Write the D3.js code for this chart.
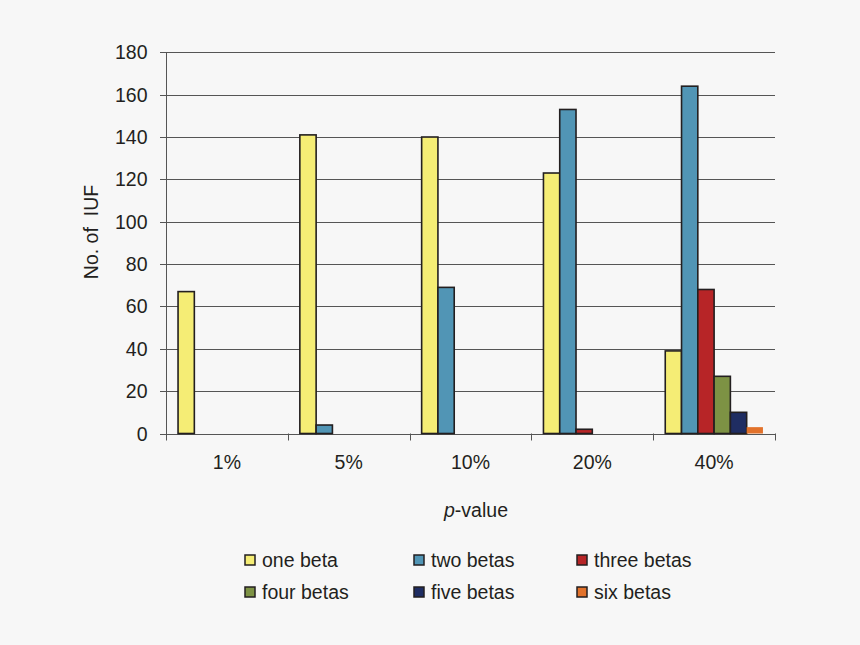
<!DOCTYPE html>
<html><head><meta charset="utf-8">
<script src="https://cdn.jsdelivr.net/npm/d3@7"></script>
<style>
html,body{margin:0;padding:0;background:#f7f7f7;}
svg{display:block;}
text{font-family:"Liberation Sans",Arial,Helvetica,sans-serif;fill:#231f20;}
</style></head>
<body>
<script>
const categories = ["1%","5%","10%","20%","40%"];
const seriesNames = ["one beta","two betas","three betas","four betas","five betas","six betas"];
const seriesColors = ["#f5ed75","#5195b5","#b72527","#7d9244","#1f2d62","#e2722b"];
const oneBeta   = [67,141,140,123,39];
const twoBetas  = [0,4,69,153,164];
const threeBetas= [0,0,0,2,68];
const fourBetas = [0,0,0,0,27];
const fiveBetas = [0,0,0,0,10];
const sixBetas  = [0,0,0,0,3];
const yTicks = [0,20,40,60,80,100,120,140,160,180];
const allSeries = [oneBeta,twoBetas,threeBetas,fourBetas,fiveBetas,sixBetas];

(function(){
const W=860,H=645, FS=19.5;
const svg=d3.select("body").append("svg").attr("width",W).attr("height",H);
svg.append("rect").attr("width",W).attr("height",H).attr("fill","#f7f7f7");
const mL=166, mR=775, mT=52.3, mB=433.5;
const x=d3.scaleBand().domain(categories).range([mL,mR]).paddingInner(0).paddingOuter(0);
const xs=d3.scaleBand().domain(seriesNames).range([0,x.bandwidth()]).paddingOuter(0.74).paddingInner(0);
const y=d3.scaleLinear().domain([0,180]).range([mB,mT]);

svg.append("g").selectAll("line").data(yTicks).join("line")
  .attr("x1",mL-6).attr("x2",mR).attr("y1",d=>Math.round(y(d))+0.5).attr("y2",d=>Math.round(y(d))+0.5)
  .attr("stroke","#555").attr("stroke-width",1);
svg.append("line").attr("x1",mL+0.5).attr("x2",mL+0.5).attr("y1",y(180)).attr("y2",mB+7).attr("stroke","#555");
svg.append("g").selectAll("text").data(yTicks).join("text")
  .attr("x",147.5).attr("y",d=>y(d)).attr("dy","0.36em").attr("text-anchor","end")
  .attr("font-size",FS).text(d=>d);
const bounds=categories.map(c=>x(c)).concat([mR]);
svg.append("g").selectAll("line").data(bounds.slice(1)).join("line")
  .attr("x1",d=>Math.round(d)+0.5).attr("x2",d=>Math.round(d)+0.5).attr("y1",mB).attr("y2",mB+7)
  .attr("stroke","#555");
const g=svg.append("g");
allSeries.forEach((vals,si)=>{
  g.selectAll(null).data(vals.map((v,i)=>({v,c:categories[i]})).filter(d=>d.v>0)).join("rect")
    .attr("x",d=>x(d.c)+xs(seriesNames[si]))
    .attr("width",xs.bandwidth())
    .attr("y",d=>y(d.v)).attr("height",d=>mB-y(d.v))
    .attr("fill",seriesColors[si])
    .attr("stroke",si===5?"none":"#231f20").attr("stroke-width",1.6);
});
svg.append("g").selectAll("text").data(categories).join("text")
  .attr("x",d=>x(d)+x.bandwidth()/2).attr("y",469).attr("text-anchor","middle")
  .attr("font-size",FS).text(d=>d);
const xt=svg.append("text").attr("x",476).attr("y",517).attr("text-anchor","middle").attr("font-size",FS);
xt.append("tspan").attr("font-style","italic").text("p");
xt.append("tspan").text("-value");
svg.append("text").attr("transform","translate(98,232) rotate(-90)").attr("text-anchor","middle")
  .attr("font-size",FS).text("No. of\u00a0 IUF");
const legX=[245,414,577], legY=[560,592];
seriesNames.forEach((n,i)=>{
  const lx=legX[i%3], ly=legY[Math.floor(i/3)];
  svg.append("rect").attr("x",lx).attr("y",ly-5).attr("width",10).attr("height",10)
    .attr("fill",seriesColors[i]).attr("stroke","#231f20").attr("stroke-width",1.5);
  svg.append("text").attr("x",lx+17).attr("y",ly).attr("dy","0.36em").attr("font-size",FS).text(n);
});
})();
</script>
</body></html>
